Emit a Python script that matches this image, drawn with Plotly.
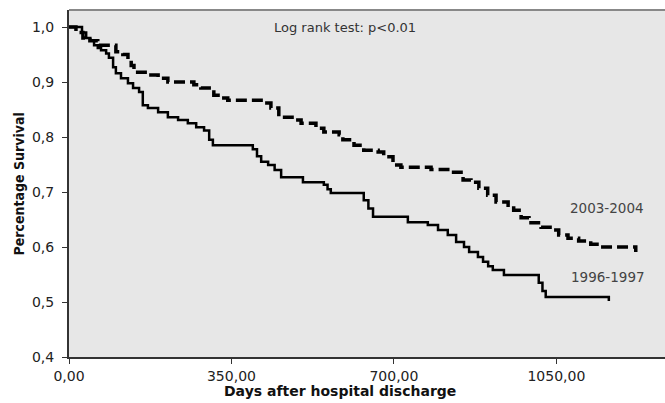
import plotly.graph_objects as go

# 1996-1997 cohort (solid)
days_9697 = [0, 13, 28, 37, 46, 54, 62, 69, 80, 86, 95, 101, 112, 127, 138, 151, 159, 170,
             192, 213, 235, 256, 274, 291, 302, 310, 396, 405, 414, 429, 443, 457, 504, 549,
             557, 564, 635, 645, 655, 730, 773, 795, 816, 834, 851, 862, 881, 892, 903, 913,
             937, 1012, 1020, 1027, 1163, 1163]
surv_9697 = [1.0, 1.0, 0.99, 0.98, 0.975, 0.967, 0.962, 0.958, 0.952, 0.944, 0.927, 0.916,
             0.907, 0.898, 0.889, 0.882, 0.858, 0.853, 0.845, 0.836, 0.831, 0.825, 0.818,
             0.812, 0.795, 0.785, 0.778, 0.765, 0.755, 0.749, 0.74, 0.727, 0.718, 0.713,
             0.705, 0.698, 0.685, 0.67, 0.655, 0.645, 0.64, 0.631, 0.622, 0.609, 0.6,
             0.591, 0.582, 0.573, 0.565, 0.558, 0.549, 0.535, 0.52, 0.509, 0.509, 0.502]

# 2003-2004 cohort (dashed)
days_0304 = [0, 15, 30, 45, 62, 101, 116, 127, 134, 140, 170, 192, 213, 269, 284, 302, 312,
             327, 342, 420, 435, 452, 485, 500, 532, 549, 582, 590, 614, 635, 666, 678, 698,
             715, 780, 816, 849, 866, 883, 902, 920, 946, 958, 974, 991, 1017, 1045, 1055,
             1075, 1098, 1124, 1150, 1221, 1221]
surv_0304 = [1.0, 0.99, 0.98, 0.975, 0.967, 0.955, 0.95, 0.94, 0.93, 0.918, 0.913, 0.907,
             0.9, 0.895, 0.889, 0.882, 0.876, 0.871, 0.867, 0.862, 0.853, 0.836, 0.831,
             0.825, 0.816, 0.809, 0.804, 0.795, 0.785, 0.776, 0.773, 0.764, 0.749, 0.745,
             0.741, 0.736, 0.722, 0.718, 0.707, 0.694, 0.682, 0.676, 0.667, 0.653, 0.644,
             0.636, 0.631, 0.622, 0.616, 0.611, 0.605, 0.6, 0.6, 0.591]

x_tickvals = [0, 350, 700, 1050]
x_ticktext = ["0,00", "350,00", "700,00", "1050,00"]
y_tickvals = [0.4, 0.5, 0.6, 0.7, 0.8, 0.9, 1.0]
y_ticktext = ["0,4", "0,5", "0,6", "0,7", "0,8", "0,9", "1,0"]

fig = go.Figure()
fig.add_trace(go.Scatter(x=days_0304, y=surv_0304, mode="lines", line_shape="hv",
                         line=dict(color="black", width=3.5, dash="11px,5px"),
                         name="2003-2004", showlegend=False))
fig.add_trace(go.Scatter(x=days_9697, y=surv_9697, mode="lines", line_shape="hv",
                         line=dict(color="black", width=2.5),
                         name="1996-1997", showlegend=False))

fig.add_annotation(x=594, y=1.0, text="Log rank test: p<0.01", showarrow=False,
                   font=dict(family="DejaVu Sans", size=13, color="#333"))
fig.add_annotation(x=1159, y=0.671, text="2003-2004", showarrow=False,
                   font=dict(family="DejaVu Sans", size=13.5, color="#444"))
fig.add_annotation(x=1161, y=0.545, text="1996-1997", showarrow=False,
                   font=dict(family="DejaVu Sans", size=13.5, color="#444"))

# axis titles
fig.add_annotation(xref="paper", yref="paper", x=0.455, y=-0.098, xanchor="center",
                   yanchor="middle", text="Days after hospital discharge", showarrow=False,
                   font=dict(family="DejaVu Sans", size=14, color="#111", weight="bold"))
fig.add_annotation(xref="paper", yref="paper", x=-0.084, y=0.5, xanchor="center",
                   yanchor="middle", textangle=-90, text="Percentage Survival", showarrow=False,
                   font=dict(family="DejaVu Sans Condensed, Liberation Sans Narrow, sans-serif",
                             size=14, color="#111", weight="bold"))

fig.add_shape(type="line", xref="paper", yref="paper", x0=0, x1=1, y0=1, y1=1,
              line=dict(color="#888", width=2))

fig.update_layout(
    width=665, height=403,
    margin=dict(l=69, r=0, t=10, b=46),
    paper_bgcolor="white",
    plot_bgcolor="#e7e7e7",
    hovermode=False,
    xaxis=dict(range=[0, 1284], tickvals=x_tickvals, ticktext=x_ticktext,
               showgrid=False, zeroline=False, showline=True, linecolor="#333",
               linewidth=2, ticks="outside", ticklen=5, tickcolor="#333", automargin=False,
               tickfont=dict(family="DejaVu Sans", size=14, color="#222")),
    yaxis=dict(range=[0.4, 1.031], tickvals=y_tickvals, ticktext=y_ticktext,
               showgrid=False, zeroline=False, showline=True, linecolor="#333",
               linewidth=2, ticks="outside", ticklen=5, tickcolor="#333", automargin=False,
               ticklabelstandoff=5,
               tickfont=dict(family="DejaVu Sans", size=14, color="#222")),
)

fig.write_html("out.html", config={"displayModeBar": False, "staticPlot": True},
               post_script="document.body.style.margin='0';document.body.style.overflow='hidden';")
